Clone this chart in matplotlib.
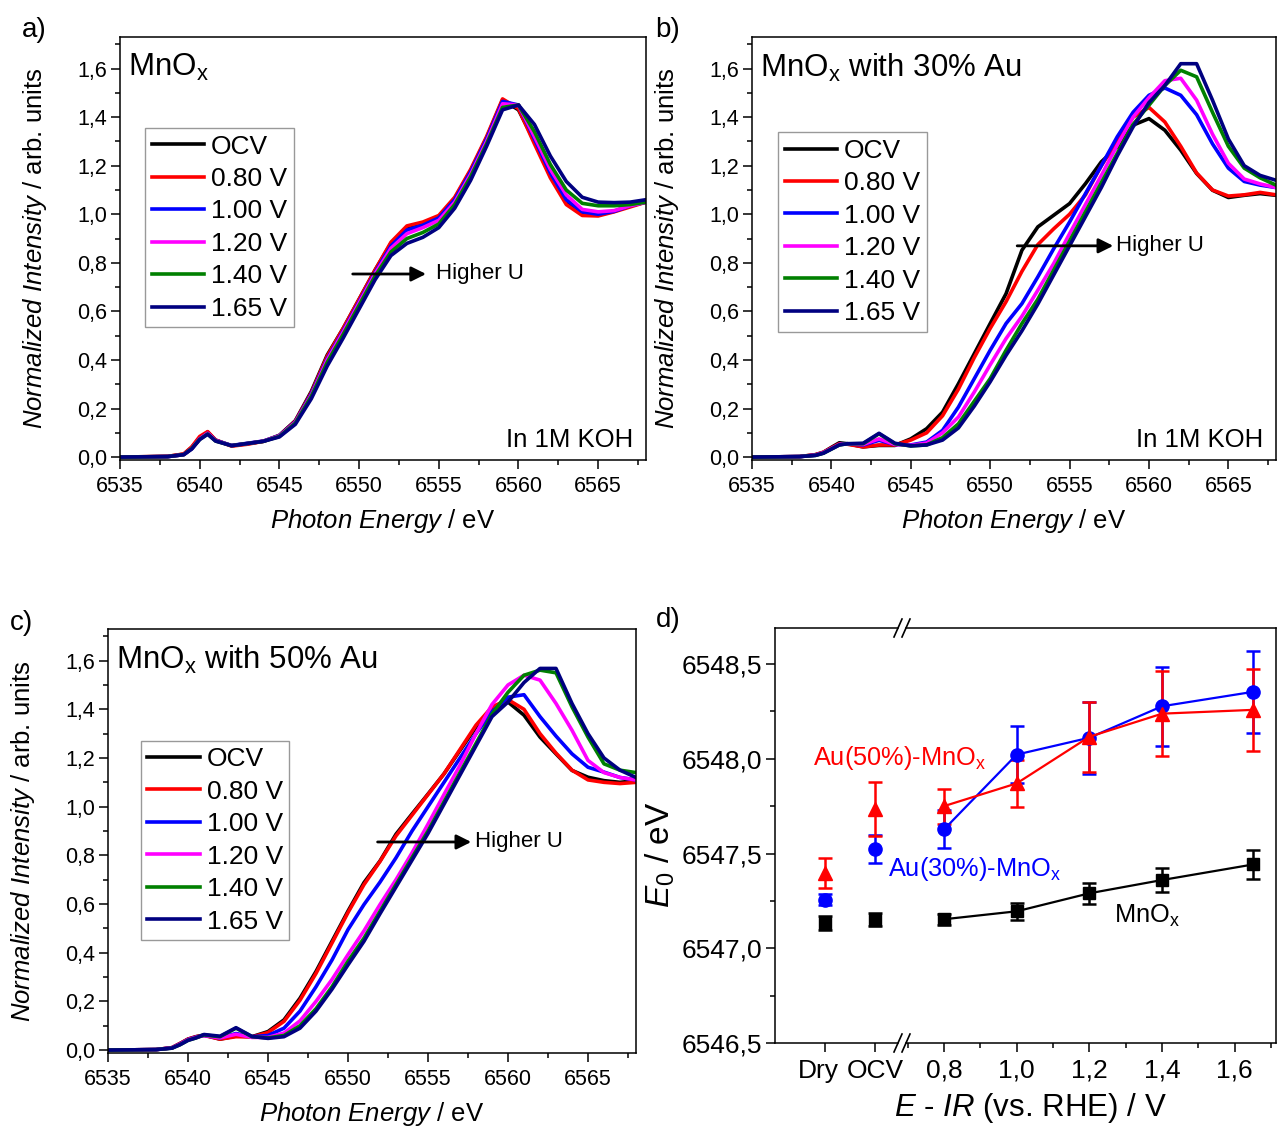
import numpy as np
import matplotlib.pyplot as plt
from matplotlib.ticker import MultipleLocator, FuncFormatter
from matplotlib.lines import Line2D
from matplotlib.transforms import ScaledTranslation

plt.rcParams['font.family'] = ['Liberation Sans', 'DejaVu Sans']
plt.rcParams['mathtext.fontset'] = 'custom'
plt.rcParams['mathtext.rm'] = 'Liberation Sans'
plt.rcParams['mathtext.it'] = 'Liberation Sans:italic'

## ---- data ---- ##

energy = [6535, 6538, 6539, 6539.5, 6540, 6540.5, 6541, 6542, 6543, 6544, 6545,
          6546, 6547, 6548, 6549, 6550, 6551, 6552, 6553, 6554, 6555, 6556, 6557,
          6558, 6559, 6560, 6561, 6562, 6563, 6564, 6565, 6566, 6567, 6568]

legend_labels = ['OCV', '0.80 V', '1.00 V', '1.20 V', '1.40 V', '1.65 V']

# a) MnOx
a_ocv = [0.0, 0.003, 0.012, 0.04, 0.08, 0.103, 0.07, 0.047, 0.055, 0.065, 0.09, 0.15, 0.27, 0.42, 0.53, 0.65, 0.77,
         0.88, 0.945, 0.963, 0.99, 1.065, 1.18, 1.315, 1.47, 1.43, 1.30, 1.16, 1.05, 1.005, 1.0, 1.012, 1.035, 1.05]
a_080 = [0.0, 0.003, 0.013, 0.042, 0.085, 0.105, 0.07, 0.045, 0.053, 0.065, 0.088, 0.148, 0.265, 0.415, 0.53, 0.65, 0.77,
         0.885, 0.952, 0.968, 0.995, 1.07, 1.185, 1.32, 1.475, 1.435, 1.29, 1.15, 1.04, 0.995, 0.993, 1.01, 1.03, 1.05]
a_100 = [0.0, 0.002, 0.01, 0.035, 0.075, 0.098, 0.068, 0.048, 0.057, 0.066, 0.088, 0.145, 0.26, 0.405, 0.52, 0.64, 0.76,
         0.87, 0.935, 0.955, 0.985, 1.06, 1.175, 1.31, 1.465, 1.45, 1.31, 1.17, 1.06, 1.01, 1.0, 1.012, 1.035, 1.05]
a_120 = [0.0, 0.002, 0.01, 0.035, 0.075, 0.098, 0.068, 0.047, 0.056, 0.066, 0.087, 0.143, 0.255, 0.4, 0.515, 0.635, 0.755,
         0.86, 0.92, 0.945, 0.975, 1.05, 1.165, 1.30, 1.455, 1.45, 1.32, 1.185, 1.08, 1.02, 1.01, 1.015, 1.035, 1.05]
a_140 = [0.0, 0.002, 0.01, 0.035, 0.073, 0.095, 0.066, 0.047, 0.056, 0.065, 0.085, 0.14, 0.25, 0.39, 0.505, 0.625, 0.745,
         0.845, 0.90, 0.925, 0.96, 1.04, 1.155, 1.29, 1.44, 1.45, 1.34, 1.205, 1.10, 1.045, 1.035, 1.035, 1.04, 1.05]
a_165 = [0.0, 0.002, 0.01, 0.033, 0.072, 0.094, 0.066, 0.047, 0.056, 0.065, 0.083, 0.135, 0.24, 0.375, 0.49, 0.61, 0.73,
         0.83, 0.88, 0.905, 0.945, 1.025, 1.14, 1.28, 1.43, 1.45, 1.37, 1.24, 1.135, 1.07, 1.05, 1.048, 1.05, 1.06]

# b) MnOx with 30% Au
b_ocv = [0.0, 0.002, 0.01, 0.02, 0.04, 0.059, 0.055, 0.042, 0.048, 0.048, 0.075, 0.117, 0.185, 0.302, 0.426, 0.55, 0.673,
         0.852, 0.948, 0.996, 1.044, 1.126, 1.216, 1.277, 1.367, 1.394, 1.346, 1.264, 1.168, 1.099, 1.069, 1.078, 1.085, 1.078]
b_080 = [0.0, 0.002, 0.01, 0.02, 0.038, 0.055, 0.053, 0.042, 0.05, 0.05, 0.07, 0.10, 0.17, 0.28, 0.41, 0.53, 0.64,
         0.765, 0.875, 0.94, 1.0, 1.08, 1.2, 1.30, 1.40, 1.44, 1.38, 1.28, 1.17, 1.10, 1.075, 1.08, 1.09, 1.08]
b_100 = [0.0, 0.002, 0.008, 0.018, 0.035, 0.052, 0.055, 0.05, 0.069, 0.052, 0.05, 0.062, 0.11, 0.206, 0.323, 0.44, 0.55,
         0.632, 0.742, 0.858, 0.968, 1.085, 1.2, 1.319, 1.42, 1.49, 1.52, 1.49, 1.41, 1.29, 1.19, 1.135, 1.12, 1.11]
b_120 = [0.0, 0.002, 0.008, 0.018, 0.035, 0.052, 0.055, 0.052, 0.075, 0.052, 0.048, 0.058, 0.10, 0.165, 0.268, 0.38, 0.488,
         0.58, 0.687, 0.797, 0.92, 1.04, 1.16, 1.284, 1.40, 1.48, 1.55, 1.56, 1.47, 1.33, 1.21, 1.145, 1.125, 1.11]
b_140 = [0.0, 0.002, 0.007, 0.016, 0.033, 0.05, 0.055, 0.055, 0.096, 0.055, 0.046, 0.05, 0.08, 0.137, 0.23, 0.323, 0.44,
         0.55, 0.65, 0.77, 0.89, 1.01, 1.13, 1.25, 1.37, 1.449, 1.53, 1.593, 1.566, 1.42, 1.28, 1.19, 1.15, 1.12]
b_165 = [0.0, 0.002, 0.007, 0.016, 0.033, 0.05, 0.055, 0.057, 0.098, 0.057, 0.046, 0.05, 0.07, 0.12, 0.21, 0.31, 0.419,
         0.52, 0.63, 0.75, 0.87, 0.99, 1.11, 1.24, 1.36, 1.46, 1.53, 1.62, 1.62, 1.47, 1.31, 1.2, 1.16, 1.14]

# c) MnOx with 50% Au
c_ocv = [0.0, 0.002, 0.01, 0.027, 0.045, 0.055, 0.062, 0.045, 0.058, 0.055, 0.076, 0.124, 0.213, 0.323, 0.447, 0.571, 0.688,
         0.777, 0.887, 0.97, 1.052, 1.135, 1.231, 1.327, 1.396, 1.43, 1.376, 1.286, 1.217, 1.149, 1.121, 1.107, 1.10, 1.107]
c_080 = [0.0, 0.002, 0.01, 0.027, 0.045, 0.055, 0.06, 0.045, 0.055, 0.054, 0.072, 0.118, 0.205, 0.315, 0.44, 0.565, 0.68,
         0.775, 0.88, 0.965, 1.05, 1.135, 1.235, 1.335, 1.41, 1.44, 1.40, 1.30, 1.22, 1.15, 1.11, 1.10, 1.095, 1.10]
c_100 = [0.0, 0.002, 0.009, 0.025, 0.043, 0.053, 0.06, 0.05, 0.068, 0.055, 0.06, 0.09, 0.16, 0.26, 0.37, 0.495, 0.598,
         0.69, 0.79, 0.9, 1.0, 1.1, 1.2, 1.3, 1.39, 1.45, 1.46, 1.37, 1.29, 1.217, 1.162, 1.142, 1.12, 1.11]
c_120 = [0.0, 0.002, 0.009, 0.024, 0.042, 0.052, 0.06, 0.05, 0.065, 0.052, 0.052, 0.07, 0.12, 0.2, 0.29, 0.392, 0.49,
         0.598, 0.7, 0.81, 0.928, 1.05, 1.17, 1.3, 1.42, 1.5, 1.54, 1.52, 1.424, 1.314, 1.19, 1.14, 1.12, 1.11]
c_140 = [0.0, 0.002, 0.008, 0.022, 0.04, 0.05, 0.062, 0.055, 0.09, 0.055, 0.05, 0.06, 0.1, 0.17, 0.26, 0.365, 0.46,
         0.57, 0.68, 0.79, 0.90, 1.02, 1.14, 1.26, 1.38, 1.47, 1.54, 1.561, 1.55, 1.41, 1.286, 1.176, 1.15, 1.14]
c_165 = [0.0, 0.002, 0.008, 0.022, 0.04, 0.05, 0.064, 0.057, 0.092, 0.056, 0.048, 0.055, 0.09, 0.16, 0.25, 0.35, 0.447,
         0.56, 0.67, 0.78, 0.89, 1.01, 1.13, 1.25, 1.37, 1.43, 1.51, 1.568, 1.568, 1.424, 1.3, 1.2, 1.15, 1.12]

# d) edge position E0
pre_labels = ['Dry', 'OCV']
potential = [0.8, 1.0, 1.2, 1.4, 1.65]

mnox_pre = [6547.133, 6547.150]
mnox_pre_err = [0.035, 0.034]
mnox_e0 = [6547.153, 6547.195, 6547.290, 6547.360, 6547.442]
mnox_err = [0.030, 0.044, 0.055, 0.064, 0.076]

au30_pre = [6547.257, 6547.525]
au30_pre_err = [0.027, 0.075]
au30_e0 = [6547.627, 6548.022, 6548.111, 6548.277, 6548.353]
au30_err = [0.100, 0.152, 0.190, 0.209, 0.218]

au50_pre = [6547.398, 6547.735]
au50_pre_err = [0.080, 0.140]
au50_e0 = [6547.750, 6547.870, 6548.116, 6548.238, 6548.258]
au50_err = [0.093, 0.124, 0.184, 0.225, 0.215]

line_colors = ['#000000', '#ff0000', '#0000ff', '#ff00ff', '#008000', '#000080']

W, H = 1278, 1126


def rect(l, t, r, b):
    # pixel box -> figure fraction
    return [l / W, 1 - b / H, (r - l) / W, (b - t) / H]


def comma(fmt):
    return FuncFormatter(lambda v, p: fmt.format(v).replace('.', ','))


def style_axes(ax, lab_size):
    for s in ax.spines.values():
        s.set_linewidth(1.1)
    ax.tick_params(which='major', direction='out', length=6.5, width=1.1, labelsize=lab_size)
    ax.tick_params(which='minor', direction='out', length=3.5, width=1.1)
    ax.tick_params(axis='x', which='both', pad=5, top=False)
    ax.tick_params(axis='y', which='both', pad=3, right=False)


def spectrum_panel(ax, curves, title, arrow, legend_at, koh):
    for y, lab, col in zip(curves, legend_labels, line_colors):
        ax.plot(energy, y, color=col, lw=2.6, label=lab)
    ax.set_xlim(6535, 6568)
    ax.set_ylim(-0.012, 1.73)
    ax.xaxis.set_major_locator(MultipleLocator(5))
    ax.xaxis.set_minor_locator(MultipleLocator(2.5))
    ax.yaxis.set_major_locator(MultipleLocator(0.2))
    ax.yaxis.set_minor_locator(MultipleLocator(0.1))
    ax.yaxis.set_major_formatter(comma('{:.1f}'))
    style_axes(ax, 15.5)
    ax.set_xlabel(r'$\mathit{Photon\ Energy}$ / eV', fontsize=18.5)
    ax.set_ylabel(r'$\mathit{Normalized\ Intensity}$ / arb. units', fontsize=18.5)
    ax.xaxis.set_label_coords(0.5, -0.112)
    ax.yaxis.set_label_coords(-0.135, 0.5)
    ax.text(0.015, 0.965, title, transform=ax.transAxes, fontsize=22.5, va='top', ha='left')
    if koh:
        ax.text(0.975, 0.03, 'In 1M KOH', transform=ax.transAxes, fontsize=18.5, ha='right', va='baseline')
    x0, x1, yv, xt = arrow
    ax.annotate('', xy=(x1, yv), xytext=(x0, yv),
                arrowprops=dict(arrowstyle='-|>', color='k', lw=2, mutation_scale=22, shrinkA=0, shrinkB=0))
    ax.text(xt, yv, 'Higher U', fontsize=16, va='center', ha='left')
    leg = ax.legend(loc='upper left', bbox_to_anchor=legend_at, fontsize=19, frameon=True, fancybox=False,
                    edgecolor='#808080', handlelength=2.0, handletextpad=0.25, labelspacing=0.32,
                    borderpad=0.25, borderaxespad=0)
    leg.get_frame().set_linewidth(1.0)


fig = plt.figure(figsize=(W / 100, H / 100), dpi=100)

ax_a = fig.add_axes(rect(120, 37, 646, 460))
ax_b = fig.add_axes(rect(752, 37, 1276, 460))
ax_c = fig.add_axes(rect(108, 629, 636, 1053))

spectrum_panel(ax_a, [a_ocv, a_080, a_100, a_120, a_140, a_165], r'MnO$_\mathrm{x}$',
               (6549.6, 6554.2, 0.754, 6554.8), (0.0475, 0.785), True)
spectrum_panel(ax_b, [b_ocv, b_080, b_100, b_120, b_140, b_165], r'MnO$_\mathrm{x}$ with 30% Au',
               (6551.7, 6557.75, 0.87, 6557.95), (0.0496, 0.775), True)
spectrum_panel(ax_c, [c_ocv, c_080, c_100, c_120, c_140, c_165], r'MnO$_\mathrm{x}$ with 50% Au',
               (6551.85, 6557.7, 0.855, 6557.95), (0.0617, 0.7366), False)

## ---- panel d: broken x axis ---- ##
ax_dl = fig.add_axes(rect(775, 628, 898, 1043))
ax_dr = fig.add_axes(rect(906, 628, 1276, 1043))

for ax in (ax_dl, ax_dr):
    ax.set_ylim(6546.5, 6548.69)
    style_axes(ax, 19)
ax_dl.spines['right'].set_visible(False)
ax_dr.spines['left'].set_visible(False)
ax_dr.tick_params(axis='y', which='both', left=False, labelleft=False)

ax_dl.set_xlim(-1.0, 1.46)
ax_dl.set_xticks(range(len(pre_labels)))
ax_dl.set_xticklabels(pre_labels)
# nudge the "Dry" label left so it does not run into "OCV"
dry_lab = ax_dl.get_xticklabels()[0]
dry_lab.set_transform(dry_lab.get_transform() + ScaledTranslation(-0.07, 0, fig.dpi_scale_trans))
ax_dl.yaxis.set_major_locator(MultipleLocator(0.5))
ax_dl.yaxis.set_minor_locator(MultipleLocator(0.25))
ax_dl.yaxis.set_major_formatter(comma('{:.1f}'))

ax_dr.set_xlim(0.6955, 1.7134)
ax_dr.xaxis.set_major_locator(MultipleLocator(0.2))
ax_dr.xaxis.set_minor_locator(MultipleLocator(0.1))
ax_dr.xaxis.set_major_formatter(comma('{:.1f}'))

series = [
    (mnox_pre, mnox_pre_err, mnox_e0, mnox_err, '#000000', 's', 8.5),
    (au30_pre, au30_pre_err, au30_e0, au30_err, '#0000ff', 'o', 9.5),
    (au50_pre, au50_pre_err, au50_e0, au50_err, '#ff0000', '^', 10),
]
for pre, pre_err, e0, err, col, mk, ms in series:
    ax_dl.errorbar(range(len(pre)), pre, yerr=pre_err, fmt=mk, color=col, ms=ms,
                   elinewidth=1.8, capsize=5, capthick=1.8, clip_on=False)
    ax_dr.errorbar(potential, e0, yerr=err, fmt=mk + '-', color=col, ms=ms, lw=1.6,
                   elinewidth=1.8, capsize=5, capthick=1.8, clip_on=False)

ax_dr.text(0.439, 6547.966, r'Au(50%)-MnO$_\mathrm{x}$', color='#ff0000', fontsize=18.3, va='baseline', clip_on=False)
ax_dr.text(0.645, 6547.38, r'Au(30%)-MnO$_\mathrm{x}$', color='#0000ff', fontsize=18.3, va='baseline', clip_on=False)
ax_dr.text(1.267, 6547.135, r'MnO$_\mathrm{x}$', color='#000000', fontsize=18.3, va='baseline', clip_on=False)

# break marks "//" on top and bottom spines
for yb in (628, 1043):
    for xb in (898, 906):
        fig.add_artist(Line2D([(xb - 4) / W, (xb + 4) / W], [1 - (yb + 9) / H, 1 - (yb - 9) / H],
                              color='k', lw=1.2, transform=fig.transFigure))

fig.text(660 / W, 1 - 855 / H, r'$E_0$ / eV', rotation=90, fontsize=24, ha='center', va='center')
fig.text(1030 / W, 1 - 1108 / H, r'$E$ - $IR$ (vs. RHE) / V', fontsize=22.5, ha='center', va='center')

for lab, xp, yp in [('a)', 22, 30), ('b)', 655, 30), ('c)', 10, 623), ('d)', 656, 620)]:
    fig.text(xp / W, 1 - yp / H, lab, fontsize=20, ha='left', va='center')

fig.savefig('out.png', dpi=100)
